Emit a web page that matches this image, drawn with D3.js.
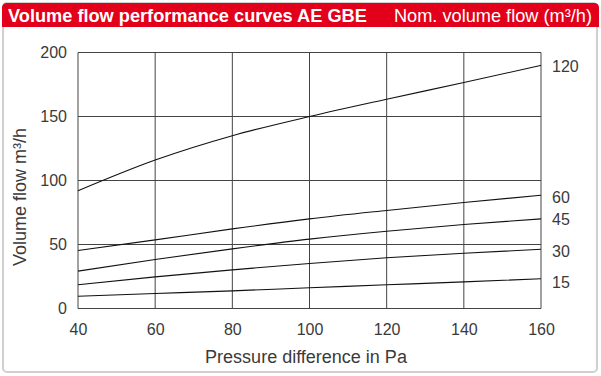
<!DOCTYPE html>
<html>
<head>
<meta charset="utf-8">
<script src="https://cdn.jsdelivr.net/npm/d3@7"></script>
<style>
  body { margin: 0; background: #fff; }
  svg text { font-family: "Liberation Sans", Arial, sans-serif; }
</style>
</head>
<body>
<div id="chart"></div>
<script>
// Pressure points (Pa)
const pressures = [40, 60, 80, 100, 120, 140, 160];

// Nominal volume flow series (m3/h)
const nominal = ["120", "60", "45", "30", "15"];
const flow120 = [92, 116, 135, 150, 163.5, 176.5, 190];
const flow60 = [45.3, 53.6, 62.2, 70, 76.6, 82.8, 88.5];
const flow45 = [29.2, 38.3, 46.6, 54.2, 60.4, 65.6, 70];
const flow30 = [18.5, 24.7, 30.2, 35.2, 39.6, 43.2, 46.3];
const flow15 = [9.6, 11.7, 13.8, 16.2, 18.5, 20.8, 23.2];

const xTicks = [40, 60, 80, 100, 120, 140, 160];
const yTicks = [0, 50, 100, 150, 200];

const seriesList = [flow120, flow60, flow45, flow30, flow15];

const width = 601, height = 376;
const margin = {top: 52.5, right: 60, bottom: 67.5, left: 78};

const svg = d3.select('#chart').append('svg')
    .attr('width', width)
    .attr('height', height);

// Outer frame
svg.append('rect')
    .attr('x', 3).attr('y', 3)
    .attr('width', 594).attr('height', 369)
    .attr('rx', 4)
    .style('fill', '#fff')
    .style('stroke', '#cfcfcf')
    .style('stroke-width', 2);

// Header bar with rounded top corners
svg.append('path')
    .attr('d', 'M2,27 L2,8 Q2,3 7,3 L594,3 Q599,3 599,8 L599,27 Z')
    .style('fill', '#e2001a');

svg.append('text')
    .attr('x', 8).attr('y', 21.5)
    .style('font-size', '18.2px')
    .style('font-weight', 'bold')
    .style('fill', '#fff')
    .text('Volume flow performance curves AE GBE');

svg.append('text')
    .attr('x', 592).attr('y', 21.5)
    .attr('text-anchor', 'end')
    .style('font-size', '18.2px')
    .style('fill', '#fff')
    .text('Nom. volume flow (m³/h)');

const x = d3.scaleLinear()
    .domain([40, 160])
    .range([margin.left, width - margin.right]);

const y = d3.scaleLinear()
    .domain([0, 200])
    .range([height - margin.bottom, margin.top]);

// Grid
const grid = svg.append('g').classed('grid', true);
grid.selectAll('line.v')
    .data(xTicks)
    .enter().append('line')
    .attr('x1', d => x(d)).attr('x2', d => x(d))
    .attr('y1', y(0)).attr('y2', y(200))
    .style('stroke', '#444')
    .style('stroke-width', 1);

grid.selectAll('line.h')
    .data(yTicks)
    .enter().append('line')
    .attr('x1', x(40)).attr('x2', x(160))
    .attr('y1', d => y(d)).attr('y2', d => y(d))
    .style('stroke', '#444')
    .style('stroke-width', 1);

// Axes (labels only, grid draws the lines)
const xAxis = svg.append('g')
    .attr('transform', 'translate(0,' + y(0) + ')')
    .call(d3.axisBottom(x).tickValues(xTicks).tickSize(0).tickPadding(14));
const yAxis = svg.append('g')
    .attr('transform', 'translate(' + x(40) + ',0)')
    .call(d3.axisLeft(y).tickValues(yTicks).tickSize(0).tickPadding(11));

[xAxis, yAxis].forEach(a => {
    a.select('.domain').remove();
    a.selectAll('text')
        .style('font-size', '16px')
        .style('fill', '#3a3a3a')
        .style('font-family', '"Liberation Sans", Arial, sans-serif');
});
xAxis.selectAll('text').attr('dy', '0.78em');

// Curves
const line = d3.line()
    .x((d, i) => x(pressures[i]))
    .y(d => y(d))
    .curve(d3.curveMonotoneX);

svg.selectAll('path.curve')
    .data(seriesList)
    .enter().append('path')
    .classed('curve', true)
    .attr('d', d => line(d))
    .style('fill', 'none')
    .style('stroke', '#111')
    .style('stroke-width', 1.1);

// Right-side labels
const labelOffsets = [1, 2, 0, 2, 3];
svg.selectAll('text.nom')
    .data(nominal)
    .enter().append('text')
    .classed('nom', true)
    .attr('x', x(160) + 11)
    .attr('y', (d, i) => y(seriesList[i][seriesList[i].length - 1]) + 6 + labelOffsets[i])
    .style('font-size', '16px')
    .style('fill', '#3a3a3a')
    .text(d => d);

// Axis titles
svg.append('text')
    .attr('x', 306)
    .attr('y', 363)
    .attr('text-anchor', 'middle')
    .style('font-size', '18px')
    .style('fill', '#3a3a3a')
    .text('Pressure difference in Pa');

svg.append('text')
    .attr('transform', 'translate(26,197) rotate(-90)')
    .attr('text-anchor', 'middle')
    .style('font-size', '18px')
    .style('fill', '#3a3a3a')
    .text('Volume flow m³/h');
</script>
</body>
</html>
